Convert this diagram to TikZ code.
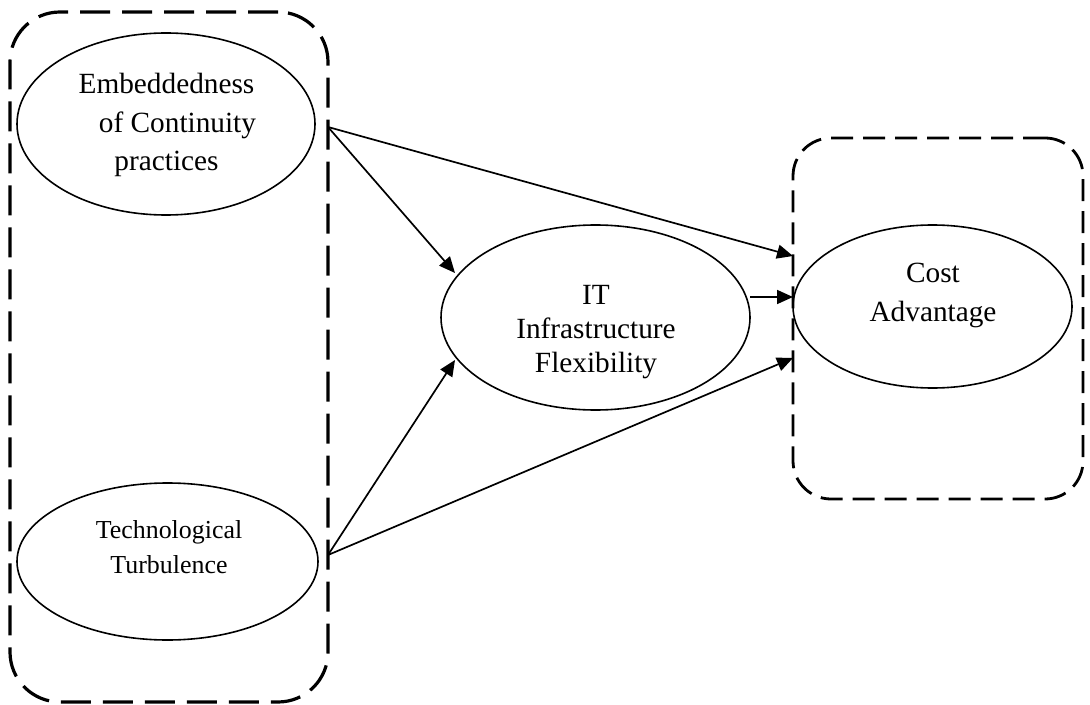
\documentclass[tikz,border=0pt]{standalone}
\usepackage{fontspec}
\setmainfont{Liberation Serif}
\usetikzlibrary{shapes.geometric,arrows.meta}
\begin{document}
\begin{tikzpicture}[x=0.5pt,y=-0.5pt,
  construct/.style={ellipse,draw,line width=0.8pt,inner sep=0pt},
  lbl/.style={align=center,inner sep=0pt},
  grpL/.style={draw,rectangle,line width=1.6pt,rounded corners=25pt,dash pattern=on 15pt off 6pt,inner sep=0pt},
  grpR/.style={draw,rectangle,line width=1.4pt,rounded corners=19pt,dash pattern=on 11pt off 5pt,inner sep=0pt},
  path/.style={-{Triangle[length=8pt,width=7pt]},line width=0.85pt}]
\useasboundingbox (0,0) rectangle (1090,705);
% group boxes
\node[grpL,minimum width=159pt,minimum height=345pt] (gl) at (169,357) {};
\node[grpR,minimum width=145pt,minimum height=180.5pt] (gr) at (938,318.5) {};
% constructs
\node[construct,minimum width=149pt,minimum height=91pt] (emb) at (166,124) {};
\node[construct,minimum width=150.5pt,minimum height=78.5pt] (tech) at (167.5,561.5) {};
\node[construct,minimum width=154.5pt,minimum height=92.5pt] (it) at (595.5,317.5) {};
\node[construct,minimum width=139.5pt,minimum height=81.5pt] (cost) at (932.5,306.5) {};
% labels
\node[lbl,font=\fontsize{14.65pt}{19.25pt}\selectfont] (embt) at (166.5,125) {Embeddedness\\\hspace*{11pt}of Continuity\\practices};
\node[lbl,font=\fontsize{12.95pt}{17.5pt}\selectfont] (techt) at (169,547.5) {Technological\\Turbulence};
\node[lbl,font=\fontsize{14.65pt}{17pt}\selectfont] (itt) at (596,332) {IT\\Infrastructure\\Flexibility};
\node[lbl,font=\fontsize{14.65pt}{19.5pt}\selectfont] (costt) at (933,295.5) {Cost\\Advantage};
% connector end points
\coordinate (embo) at (328,127);
\coordinate (techo) at (328,555);
\coordinate (itin1) at (455,273);
\coordinate (itin2) at (455,360);
\coordinate (itout) at (750,297);
\coordinate (cin1) at (793,256);
\coordinate (cin2) at (793,297);
\coordinate (cin3) at (793,358);
% connectors
\draw[path] (embo) -- (itin1);
\draw[path] (embo) -- (cin1);
\draw[path] (itout) -- (cin2);
\draw[path] (techo) -- (itin2);
\draw[path] (techo) -- (cin3);
\end{tikzpicture}
\end{document}
